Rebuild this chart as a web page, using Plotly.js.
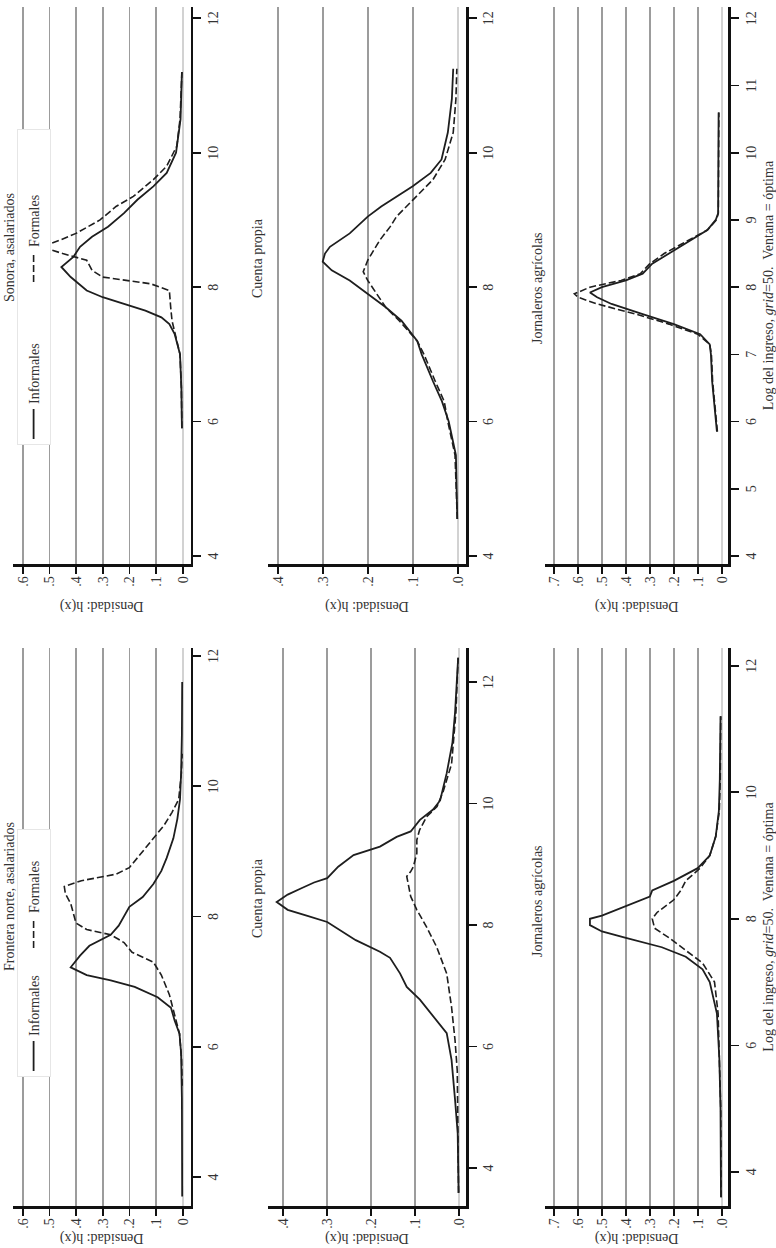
<!DOCTYPE html>
<html>
<head>
<meta charset="utf-8">
<script src="https://cdn.plot.ly/plotly-3.0.1.min.js"></script>
<style>
html,body{margin:0;padding:0;overflow:hidden;background:#fff;}
#wrap{position:absolute;left:0;top:0;width:1248px;height:776px;transform-origin:0 0;transform:translate(0px,1248px) rotate(-90deg);}
#chart{width:1248px;height:776px;}
</style>
</head>
<body>
<div id="wrap"><div id="chart"></div></div>
<script>
// ---------- DATA ----------
const seriesNames = ["Informales", "Formales"];
const panelTitles = ["Frontera norte, asalariados", "Sonora, asalariados", "Cuenta propia", "Cuenta propia", "Jornaleros agrícolas", "Jornaleros agrícolas"];
const xAxisTitle = "Log del ingreso, <i>grid</i>=50.  Ventana = óptima";
const yAxisTitle = "Densidad: h(x)";

// Frontera norte, asalariados
const fnAsInfX = [3.7, 4.5, 5.2, 5.9, 6.2, 6.4, 6.6, 6.76, 6.92, 7.02, 7.1, 7.22, 7.4, 7.55, 7.72, 7.86, 8.0, 8.15, 8.3, 8.5, 8.7, 8.9, 9.2, 9.5, 9.8, 10.2, 10.8, 11.6];
const fnAsInfY = [0.002, 0.002, 0.003, 0.006, 0.012, 0.03, 0.044, 0.094, 0.18, 0.27, 0.36, 0.42, 0.385, 0.35, 0.27, 0.24, 0.22, 0.20, 0.15, 0.11, 0.08, 0.06, 0.035, 0.02, 0.01, 0.006, 0.003, 0.002];
const fnAsForX = [5.4, 5.8, 6.2, 6.5, 6.8, 7.1, 7.3, 7.45, 7.6, 7.72, 7.8, 7.9, 8.05, 8.2, 8.35, 8.46, 8.55, 8.65, 8.75, 9.0, 9.2, 9.4, 9.6, 9.8, 10.2, 10.5];
const fnAsForY = [0.002, 0.004, 0.012, 0.03, 0.05, 0.08, 0.11, 0.19, 0.22, 0.27, 0.36, 0.40, 0.41, 0.42, 0.44, 0.444, 0.38, 0.25, 0.20, 0.15, 0.11, 0.07, 0.04, 0.015, 0.005, 0.002];

// Sonora, asalariados
const soAsInfX = [5.9, 6.5, 7.0, 7.3, 7.45, 7.55, 7.65, 7.75, 7.85, 7.95, 8.05, 8.15, 8.3, 8.45, 8.6, 8.75, 8.9, 9.1, 9.3, 9.5, 9.7, 10.0, 10.5, 11.2];
const soAsInfY = [0.003, 0.005, 0.01, 0.03, 0.05, 0.08, 0.14, 0.22, 0.30, 0.36, 0.39, 0.42, 0.455, 0.41, 0.385, 0.34, 0.28, 0.22, 0.17, 0.11, 0.06, 0.025, 0.008, 0.003];
const soAsForX = [5.9, 6.5, 7.0, 7.3, 7.5, 7.7, 7.95, 8.05, 8.15, 8.25, 8.4, 8.5, 8.6, 8.7, 8.8, 9.0, 9.2, 9.35, 9.6, 9.8, 10.1, 10.5, 11.0, 11.2];
const soAsForY = [0.003, 0.005, 0.01, 0.028, 0.04, 0.045, 0.05, 0.12, 0.30, 0.34, 0.36, 0.45, 0.53, 0.46, 0.40, 0.31, 0.25, 0.185, 0.11, 0.06, 0.022, 0.01, 0.004, 0.003];

// Frontera norte, cuenta propia
const fnCpInfX = [3.59, 4.57, 5.12, 5.78, 6.22, 6.49, 6.77, 6.98, 7.2, 7.46, 7.56, 7.75, 7.95, 8.05, 8.15, 8.25, 8.38, 8.5, 8.6, 8.7, 8.77, 8.96, 9.15, 9.29, 9.45, 9.54, 9.73, 9.9, 10.05, 10.5, 11.0, 11.5, 12.4];
const fnCpInfY = [0.001, 0.003, 0.009, 0.017, 0.028, 0.059, 0.089, 0.119, 0.134, 0.157, 0.18, 0.235, 0.28, 0.30, 0.345, 0.39, 0.415, 0.39, 0.36, 0.33, 0.30, 0.275, 0.24, 0.18, 0.142, 0.11, 0.089, 0.059, 0.043, 0.028, 0.015, 0.009, 0.002];
const fnCpForX = [3.59, 4.57, 5.12, 5.6, 6.1, 6.65, 7.2, 7.64, 7.97, 8.25, 8.47, 8.65, 8.8, 8.88, 8.96, 9.18, 9.4, 9.56, 9.78, 9.95, 10.2, 10.65, 11.5, 12.4];
const fnCpForY = [0.001, 0.002, 0.002, 0.004, 0.009, 0.017, 0.028, 0.051, 0.074, 0.096, 0.11, 0.115, 0.119, 0.11, 0.104, 0.096, 0.096, 0.09, 0.074, 0.05, 0.036, 0.017, 0.007, 0.002];

// Sonora, cuenta propia
const soCpInfX = [4.55, 5.0, 5.5, 6.0, 6.3, 6.6, 7.0, 7.2, 7.5, 7.7, 7.9, 8.1, 8.25, 8.38, 8.5, 8.6, 8.8, 9.05, 9.2, 9.35, 9.5, 9.7, 9.9, 10.3, 10.8, 11.25];
const soCpInfY = [0.001, 0.002, 0.004, 0.02, 0.035, 0.055, 0.08, 0.09, 0.125, 0.16, 0.20, 0.24, 0.28, 0.30, 0.295, 0.284, 0.24, 0.20, 0.17, 0.136, 0.10, 0.06, 0.036, 0.022, 0.013, 0.01];
const soCpForX = [4.55, 5.0, 5.5, 6.0, 6.3, 6.6, 7.0, 7.2, 7.5, 7.7, 7.9, 8.1, 8.23, 8.4, 8.7, 8.9, 9.05, 9.3, 9.6, 9.9, 10.3, 10.8, 11.25];
const soCpForY = [0.001, 0.003, 0.006, 0.022, 0.03, 0.05, 0.075, 0.09, 0.13, 0.16, 0.18, 0.20, 0.21, 0.20, 0.173, 0.15, 0.136, 0.10, 0.055, 0.028, 0.01, 0.004, 0.002];

// Frontera norte, jornaleros agrícolas
const fnJoInfX = [3.6, 5.0, 5.8, 6.5, 7.0, 7.2, 7.4, 7.55, 7.7, 7.8, 7.9, 8.0, 8.05, 8.2, 8.35, 8.45, 8.6, 8.8, 9.0, 9.3, 9.7, 10.2, 11.2];
const fnJoInfY = [0.003, 0.005, 0.01, 0.02, 0.05, 0.08, 0.15, 0.25, 0.40, 0.50, 0.55, 0.55, 0.50, 0.40, 0.30, 0.29, 0.20, 0.10, 0.05, 0.025, 0.012, 0.008, 0.005];
const fnJoForX = [3.6, 5.0, 5.8, 6.5, 7.0, 7.3, 7.5, 7.7, 7.85, 8.0, 8.1, 8.3, 8.45, 8.6, 8.8, 9.0, 9.3, 9.7, 10.2, 11.2];
const fnJoForY = [0.002, 0.004, 0.01, 0.015, 0.03, 0.08, 0.15, 0.22, 0.28, 0.29, 0.27, 0.20, 0.17, 0.15, 0.09, 0.05, 0.025, 0.01, 0.006, 0.004];

// Sonora, jornaleros agrícolas
const soJoInfX = [5.85, 6.2, 6.6, 7.0, 7.15, 7.3, 7.45, 7.6, 7.75, 7.85, 7.92, 8.0, 8.1, 8.2, 8.35, 8.5, 8.7, 8.85, 9.0, 9.1, 10.6];
const soJoInfY = [0.02, 0.03, 0.04, 0.045, 0.05, 0.09, 0.20, 0.33, 0.46, 0.52, 0.55, 0.50, 0.40, 0.33, 0.29, 0.22, 0.13, 0.06, 0.025, 0.015, 0.013];
const soJoForX = [5.85, 6.2, 6.6, 7.0, 7.15, 7.3, 7.45, 7.6, 7.75, 7.85, 7.9, 8.0, 8.1, 8.2, 8.35, 8.5, 8.7, 8.85, 9.0, 9.1, 10.6];
const soJoForY = [0.018, 0.028, 0.038, 0.043, 0.05, 0.1, 0.22, 0.36, 0.52, 0.60, 0.615, 0.55, 0.42, 0.34, 0.30, 0.24, 0.14, 0.06, 0.022, 0.014, 0.012];

// tick values / labels
const xTicks2 = [4, 6, 8, 10, 12];
const xTicks1 = [4, 5, 6, 7, 8, 9, 10, 11, 12];
const yTicksAs = [0, 0.1, 0.2, 0.3, 0.4, 0.5, 0.6];
const yLabelsAs = ["0", ".1", ".2", ".3", ".4", ".5", ".6"];
const yTicksCp = [0, 0.1, 0.2, 0.3, 0.4];
const yLabelsCp = [".0", ".1", ".2", ".3", ".4"];
const yTicksJo = [0, 0.1, 0.2, 0.3, 0.4, 0.5, 0.6, 0.7];
const yLabelsJoF = [".0", ".1", ".2", ".3", ".4", ".5", ".6", ".7"];
const yLabelsJoS = ["0", ".1", ".2", ".3", ".4", ".5", ".6", ".7"];

// ---------- BUILD ----------
const FONT = "Liberation Serif, 'Times New Roman', serif";
const W = 1248, H = 776;
const colF = [42 / W, 600 / W];
const colS = [684 / W, 1241 / W];
const row1 = [1 - 190.7 / H, 1 - 12.7 / H];
const row2 = [1 - 466 / H, 1 - 268 / H];
const row3 = [1 - 728.3 / H, 1 - 545 / H];

const panels = [
  {inf: [fnAsInfX, fnAsInfY], frm: [fnAsForX, fnAsForY], xd: colF, yd: row1, xr: [3.555, 12.123], yr: [-0.030, 0.6375], xt: xTicks2, yt: yTicksAs, yl: yLabelsAs, legend: "legend"},
  {inf: [soAsInfX, soAsInfY], frm: [soAsForX, soAsForY], xd: colS, yd: row1, xr: [3.881, 12.168], yr: [-0.030, 0.6375], xt: xTicks2, yt: yTicksAs, yl: yLabelsAs, legend: "legend2"},
  {inf: [fnCpInfX, fnCpInfY], frm: [fnCpForX, fnCpForY], xd: colF, yd: row2, xr: [3.374, 12.56], yr: [-0.0159, 0.4348], xt: xTicks2, yt: yTicksCp, yl: yLabelsCp},
  {inf: [soCpInfX, soCpInfY], frm: [soCpForX, soCpForY], xd: colS, yd: row2, xr: [3.881, 12.168], yr: [-0.0184, 0.4216], xt: xTicks2, yt: yTicksCp, yl: yLabelsCp},
  {inf: [fnJoInfX, fnJoInfY], frm: [fnJoForX, fnJoForY], xd: colF, yd: row3, xr: [3.46, 12.28], yr: [-0.0275, 0.7376], xt: xTicks2, yt: yTicksJo, yl: yLabelsJoF, xtitle: true},
  {inf: [soJoInfX, soJoInfY], frm: [soJoForX, soJoForY], xd: colS, yd: row3, xr: [3.881, 12.168], yr: [-0.0275, 0.7376], xt: xTicks1, yt: yTicksJo, yl: yLabelsJoS, xtitle: true}
];

const traces = [];
const layout = {
  width: W, height: H,
  margin: {l: 0, r: 0, t: 0, b: 0},
  paper_bgcolor: "#ffffff", plot_bgcolor: "#ffffff",
  font: {family: FONT, size: 14, color: "#222"},
  showlegend: true,
  annotations: []
};

const titleX = [351, 1000, 350, 990, 347, 960];
const titleY = [10, 10, 258, 258, 537, 537];

panels.forEach((p, i) => {
  const n = i + 1;
  const xa = n === 1 ? "x" : "x" + n;
  const ya = n === 1 ? "y" : "y" + n;
  const showLeg = !!p.legend;
  traces.push({
    x: p.inf[0], y: p.inf[1], type: "scatter", mode: "lines", name: seriesNames[0],
    xaxis: xa, yaxis: ya, line: {color: "#1e1e1e", width: 1.8, dash: "solid"},
    showlegend: showLeg, legend: p.legend || "legend", hoverinfo: "skip"
  });
  traces.push({
    x: p.frm[0], y: p.frm[1], type: "scatter", mode: "lines", name: seriesNames[1],
    xaxis: xa, yaxis: ya, line: {color: "#1e1e1e", width: 1.6, dash: "7px,3px"},
    showlegend: showLeg, legend: p.legend || "legend", hoverinfo: "skip"
  });
  const xKey = n === 1 ? "xaxis" : "xaxis" + n;
  const yKey = n === 1 ? "yaxis" : "yaxis" + n;
  layout[xKey] = {
    domain: p.xd, range: p.xr, anchor: ya, tickmode: "array", tickvals: p.xt,
    showgrid: false, zeroline: false, showline: true, linecolor: "#111", linewidth: 2.5,
    ticks: "outside", ticklen: 8, tickwidth: 1.6, tickcolor: "#111",
    tickfont: {family: FONT, size: 14, color: "#333"}, fixedrange: true,
    title: p.xtitle ? {text: xAxisTitle, font: {family: FONT, size: 14, color: "#333"}, standoff: 12} : {text: ""}
  };
  layout[yKey] = {
    domain: p.yd, range: p.yr, anchor: xa, tickmode: "array", tickvals: p.yt, ticktext: p.yl,
    showgrid: true, gridcolor: "#9c9c9c", gridwidth: 1.6,
    zeroline: true, zerolinecolor: "#d2d2d2", zerolinewidth: 1.6,
    showline: true, linecolor: "#111", linewidth: 2.5,
    ticks: "outside", ticklen: 7, tickwidth: 1.6, tickcolor: "#111",
    tickfont: {family: FONT, size: 14, color: "#333"}, fixedrange: true,
    title: {text: yAxisTitle, font: {family: FONT, size: 14, color: "#333"}, standoff: (i % 2 === 0) ? 2 : 12}
  };
  layout.annotations.push({
    text: panelTitles[i], xref: "paper", yref: "paper",
    x: titleX[i] / W, y: 1 - titleY[i] / H, xanchor: "center", yanchor: "middle",
    showarrow: false, font: {family: FONT, size: 14, color: "#333"}
  });
});

layout.legend = {
  orientation: "h", x: 171 / W, y: 1 - 17 / H, xanchor: "left", yanchor: "top",
  bgcolor: "#ffffff", bordercolor: "#e6e6e6", borderwidth: 1,
  font: {family: FONT, size: 14, color: "#333"}, entrywidth: 78, tracegroupgap: 0
};
layout.legend2 = {
  orientation: "h", x: 803 / W, y: 1 - 17 / H, xanchor: "left", yanchor: "top",
  bgcolor: "#ffffff", bordercolor: "#e6e6e6", borderwidth: 1,
  font: {family: FONT, size: 14, color: "#333"}, entrywidth: 112, tracegroupgap: 0
};

Plotly.newPlot("chart", traces, layout, {staticPlot: true, displayModeBar: false});
</script>
</body>
</html>
